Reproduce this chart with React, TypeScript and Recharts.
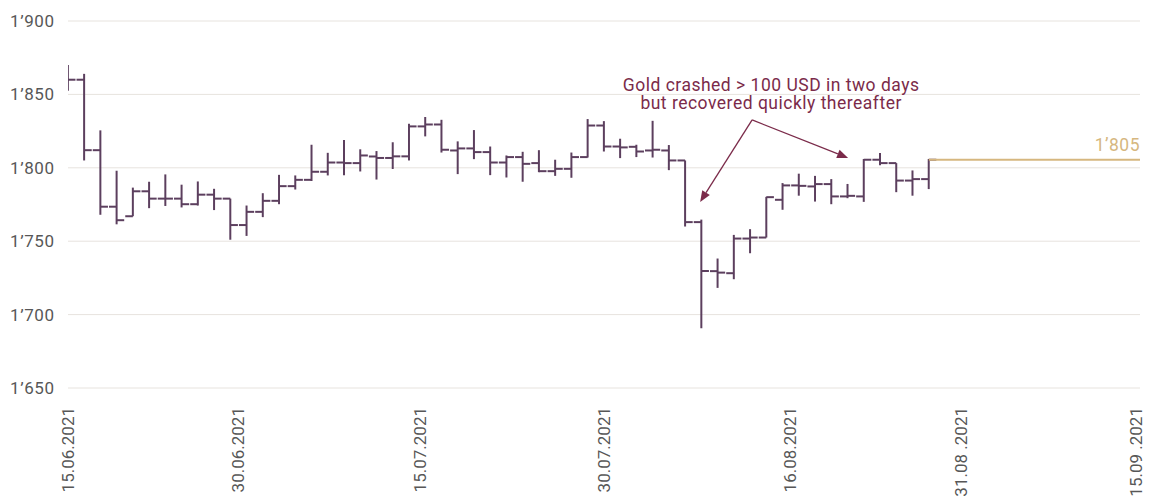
import React from 'react';
import {
  ComposedChart,
  Bar,
  XAxis,
  YAxis,
  CartesianGrid,
  ReferenceLine,
  ReferenceDot,
} from 'recharts';

// ---- data (USD per ounce, daily open / high / low / close) ----
const opens: (number | null)[] = [
  null, 1860, 1812, 1773.5, 1767, 1784, 1779, 1779, 1775.2, 1781.7,
  1779, 1761, 1770, 1777.5, 1787.5, 1791.8, 1797.3, 1803.6, 1803.2, 1807.7,
  1806.7, 1807.8, 1828.2, 1829.5, 1811.8, 1813.2, 1810.7, 1803.6, 1807.3, 1803.2,
  1797.7, 1799.3, 1807.3, 1828.8, 1814.5, 1814.3, 1811.8, 1811.8, 1805, 1763,
  1729.6, 1728.2, 1751.8, 1752.5, 1778.2, 1788, 1787.3, 1788.9, 1780.5, 1780.5,
  1805.5, 1803.2, 1791.3, 1792.3,
];
const highs: number[] = [
  1870, 1864, 1825.5, 1798, 1786.5, 1790.5, 1795.5, 1788.5, 1790.7, 1785.7,
  1779, 1774.3, 1782.7, 1795.2, 1794.8, 1815.7, 1810.2, 1819, 1812.6, 1811.4,
  1817.4, 1830, 1834.6, 1832.7, 1818, 1825.7, 1814.5, 1808.4, 1810.9, 1812,
  1805.5, 1810.4, 1833.2, 1831.8, 1819.8, 1815.7, 1832, 1815.5, 1805, 1764.7,
  1738.2, 1754.3, 1758.2, 1780.2, 1789.6, 1796, 1794.5, 1792.3, 1789, 1806,
  1810, 1803.2, 1798.2, 1806,
];
const lows: number[] = [
  1852.5, 1805, 1768, 1761.5, 1767, 1772.5, 1774, 1773, 1774.3, 1771.2,
  1751, 1753.6, 1766.4, 1775.2, 1785.2, 1791, 1794.8, 1795, 1797.5, 1792,
  1799.2, 1805, 1821.4, 1810.4, 1795.7, 1805.9, 1795, 1793.4, 1790.5, 1797,
  1794.5, 1793.2, 1807, 1811.1, 1806.6, 1807.3, 1807, 1798.4, 1760, 1690.7,
  1718.2, 1724.1, 1741.8, 1752.5, 1771.4, 1781, 1777, 1775.2, 1779.3, 1776.8,
  1801.8, 1783.4, 1781, 1785.5,
];
const closes: number[] = [
  1860, 1812, 1773.5, 1764.3, 1784, 1779, 1779, 1775.2, 1781.7, 1779,
  1761, 1770, 1777.5, 1787.5, 1791.8, 1797.3, 1803.6, 1803.2, 1808.4, 1806.7,
  1807.8, 1828.2, 1829.5, 1812.3, 1813.2, 1810.7, 1803.6, 1807.3, 1802.7, 1797.7,
  1799.3, 1807.3, 1828.8, 1814.5, 1813.9, 1811.1, 1812.3, 1805, 1763, 1729.7,
  1728.6, 1751.8, 1752.5, 1780, 1788, 1787.7, 1788.9, 1780.5, 1780.9, 1805.5,
  1803.2, 1791.3, 1792.3, 1805.5,
];

// x-axis (trading-day index scale) tick positions and labels
const xTickValues = [0, 10.47, 21.7, 33.0, 44.46, 55.0, 65.76];
const xTickLabels = [
  '15.06.2021',
  '30.06.2021',
  '15.07.2021',
  '30.07.2021',
  '16.08.2021',
  '31.08 .2021',
  '15.09 .2021',
];
const yTickValues = [1650, 1700, 1750, 1800, 1850, 1900];
const xDomain: [number, number] = [0, 66];
const yDomain: [number, number] = [1650, 1900];

// last price reference
const lastPrice = 1805.5;
const lastPriceLabel = '1’805';

// annotation
const noteLines = ['Gold crashed > 100 USD in two days', 'but recovered quickly thereafter'];
const noteAnchor = { x: 43.29, y: 1852.5 };
const arrowStart = { x: 42.12, y: 1832.6 };
const arrowTips = [
  { x: 38.92, y: 1776.7 },
  { x: 48.03, y: 1806.7 },
];

const data = highs.map((h, i) => ({
  i,
  open: opens[i],
  high: h,
  low: lows[i],
  close: closes[i],
  range: [lows[i], h],
}));

const BAR_COLOR = '#5c3f5e';
const NOTE_COLOR = '#7b2b4a';
const GOLD = '#d6b77f';
const GRID = '#e7e3de';
const AXIS_TEXT = '#575757';
const FONT = 'Roboto, "Noto Sans", sans-serif';
const HALF = 7.6;

const fmtY = (v: number) => `${Math.floor(v / 1000)}’${String(v % 1000).padStart(3, '0')}`;

const OhlcShape = (props: any) => {
  const { x, y, width, height, payload } = props;
  if (x == null || y == null || !payload) return null;
  const cx = x + width / 2;
  const top = Math.min(y, y + height);
  const bot = Math.max(y, y + height);
  const { open, high, low, close } = payload;
  const toY = (v: number) => top + ((high - v) / (high - low)) * (bot - top);
  return (
    <g stroke={BAR_COLOR} strokeWidth={2} fill="none">
      <line x1={cx} x2={cx} y1={top} y2={bot} />
      {open != null && <line x1={cx - HALF} x2={cx} y1={toY(open)} y2={toY(open)} />}
      <line x1={cx} x2={cx + HALF} y1={toY(close)} y2={toY(close)} />
    </g>
  );
};

const YTick = (props: any) => {
  const { y, payload } = props;
  return (
    <text
      x={10}
      y={y}
      dominantBaseline="central"
      textAnchor="start"
      fontFamily={FONT}
      fontSize={17}
      letterSpacing={0.6}
      fill={AXIS_TEXT}
    >
      {fmtY(payload.value)}
    </text>
  );
};

const XTick = (props: any) => {
  const { x, index } = props;
  const ty = 407;
  const label = xTickLabels[index] ?? '';
  return (
    <text
      x={x}
      y={ty}
      transform={`rotate(-90, ${x}, ${ty})`}
      textAnchor="end"
      dominantBaseline="central"
      fontFamily={FONT}
      fontSize={17}
      fill={AXIS_TEXT}
    >
      {label}
    </text>
  );
};

const Arrow = (props: any) => {
  const { x1, y1, x2, y2 } = props;
  if ([x1, y1, x2, y2].some((v) => v == null || isNaN(v))) return null;
  const dx = x2 - x1;
  const dy = y2 - y1;
  const len = Math.sqrt(dx * dx + dy * dy);
  const ux = dx / len;
  const uy = dy / len;
  const L = 11;
  const W = 4.5;
  const bx = x2 - ux * L;
  const by = y2 - uy * L;
  const p1 = `${x2},${y2}`;
  const p2 = `${bx - uy * W},${by + ux * W}`;
  const p3 = `${bx + uy * W},${by - ux * W}`;
  return (
    <g>
      <line x1={x1} y1={y1} x2={bx} y2={by} stroke={NOTE_COLOR} strokeWidth={1.3} />
      <polygon points={`${p1} ${p2} ${p3}`} fill={NOTE_COLOR} />
    </g>
  );
};

const NoteShape = (props: any) => {
  const { cx, cy } = props;
  if (cx == null || cy == null) return null;
  return (
    <g>
      {noteLines.map((t, k) => (
        <text
          key={k}
          x={cx}
          y={cy + k * 18.5}
          textAnchor="middle"
          fontFamily={FONT}
          fontSize={17.5}
          letterSpacing={0.5}
          fill={NOTE_COLOR}
        >
          {t}
        </text>
      ))}
    </g>
  );
};

const LastLabel = (props: any) => {
  const { cx, cy } = props;
  if (cx == null || cy == null) return null;
  return (
    <text
      x={cx}
      y={cy - 8.5}
      textAnchor="end"
      fontFamily={FONT}
      fontSize={17.5}
      letterSpacing={0.5}
      fill={GOLD}
    >
      {lastPriceLabel}
    </text>
  );
};

export default function App() {
  return (
    <div style={{ position: 'absolute', left: 0, top: 0, width: 1157, height: 497, background: '#fff' }}>
      <ComposedChart
        width={1157}
        height={497}
        data={data}
        margin={{ top: 21, right: 17, bottom: 0, left: 0 }}
      >
        <CartesianGrid vertical={false} stroke={GRID} strokeWidth={1} />
        <XAxis
          dataKey="i"
          type="number"
          domain={xDomain}
          ticks={xTickValues}
          interval={0}
          height={109}
          axisLine={false}
          tickLine={false}
          tick={<XTick />}
          allowDataOverflow
        />
        <YAxis
          type="number"
          domain={yDomain}
          ticks={yTickValues}
          width={68}
          axisLine={false}
          tickLine={false}
          tick={<YTick />}
          allowDataOverflow
        />
        <ReferenceLine
          segment={[
            { x: data.length - 1, y: lastPrice },
            { x: xDomain[1], y: lastPrice },
          ]}
          stroke={GOLD}
          strokeWidth={2}
        />
        <ReferenceDot x={xDomain[1]} y={lastPrice} r={0} shape={<LastLabel />} />
        <Bar
          dataKey="range"
          barSize={16}
          shape={<OhlcShape />}
          isAnimationActive={false}
        />
        {arrowTips.map((tip, k) => (
          <ReferenceLine
            key={k}
            segment={[arrowStart, tip]}
            shape={(p: any) => <Arrow {...p} />}
          />
        ))}
        <ReferenceDot x={noteAnchor.x} y={noteAnchor.y} r={0} shape={<NoteShape />} />
      </ComposedChart>
    </div>
  );
}
